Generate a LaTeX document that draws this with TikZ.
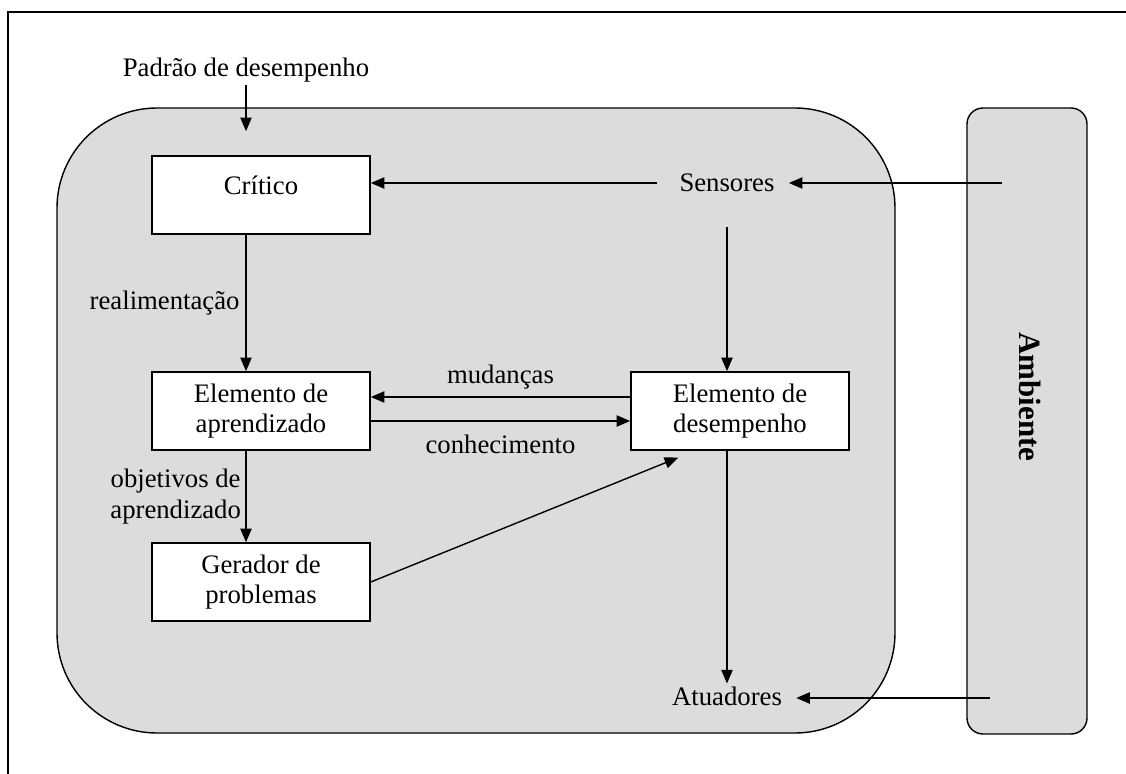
\documentclass[tikz,border=0pt]{standalone}
\usepackage{fontspec}
\setmainfont{Liberation Serif}
\usepackage{tikz}
\usetikzlibrary{arrows.meta}

\definecolor{panelgray}{RGB}{220,220,220}
\tikzset{
  unitbox/.style={draw, fill=white, line width=1.1pt, minimum width=5.45cm, minimum height=1.95cm, inner sep=0pt, align=center},
  lbl/.style={inner sep=2pt, align=center},
  port/.style={inner ysep=2pt, inner xsep=10pt},
  arr/.style={line width=1.2pt, -{Triangle[length=0.34cm, width=0.28cm]}},
}

\begin{document}
\begin{tikzpicture}[x=0.025cm, y=-0.025cm, font=\fontsize{19}{21.5}\selectfont]
% page and frame
\useasboundingbox (0,0) rectangle (1126,774);
\fill[white] (0,0) rectangle (1126,774);
\draw[line width=1pt] (8,790) -- (8,12) -- (1140,12);

% draw agent and environment panels
\draw[fill=panelgray, line width=1pt, rounded corners=2.5cm] (57,108) rectangle (895,733);
\draw[fill=panelgray, line width=1pt, rounded corners=0.4cm] (967,108) rectangle (1087,734);
\node[lbl, rotate=-90, font=\fontsize{22}{24}\selectfont\bfseries] (ambiente) at (1030,397) {Ambiente};

% draw boxes
\node[unitbox] (critico) at (261,195) {\raisebox{0.5cm}{Crítico}};
\node[unitbox] (aprend) at (261,411) {Elemento de\\aprendizado};
\node[unitbox] (gerador) at (261,582) {Gerador de\\problemas};
\node[unitbox] (desemp) at (740,411) {Elemento de\\desempenho};

% free texts
\node[lbl] (padrao) at (246,70) {Padrão de desempenho};
\node[port] (sensores) at (727,183) {Sensores};
\node[port] (atuadores) at (727,696) {Atuadores};
\coordinate (ambsens) at (1002,183);
\coordinate (ambatu) at (990,698);

% draw arrows
\draw[arr, shorten >=0.6cm] (padrao.south) -- (padrao.south |- critico.north);
\draw[arr, shorten <=0.2cm] (sensores.west) -- (sensores.west -| critico.east);
\draw[arr] (ambsens) -- (ambsens -| sensores.east);
\draw[arr, shorten <=0.8cm] (sensores.south) -- (sensores.south |- desemp.north);
\draw[arr] (critico.south -| padrao) -- (aprend.north -| padrao)
  node[lbl, midway, left=2pt] (realim) {realimentação};
\draw[arr] (aprend.south -| padrao) -- (gerador.north -| padrao)
  node[lbl, midway, left=1pt] (objet) {objetivos de\\aprendizado};
\draw[arr] ([yshift=0.35cm]desemp.west) -- ([yshift=0.35cm]desemp.west -| aprend.east)
  node[lbl, midway, above=3pt] (mudancas) {mudanças};
\draw[arr] ([yshift=-0.25cm]aprend.east) -- ([yshift=-0.25cm]aprend.east -| desemp.west)
  node[lbl, midway, below=7pt] (conhec) {conhecimento};
\draw[arr, line width=1pt] (gerador.east) -- ([xshift=1.2cm, yshift=-0.17cm]desemp.south west);
\draw[arr] (desemp.south -| sensores) -- (atuadores.north);
\draw[arr] (ambatu) -- (ambatu -| atuadores.east);

\end{tikzpicture}
\end{document}
